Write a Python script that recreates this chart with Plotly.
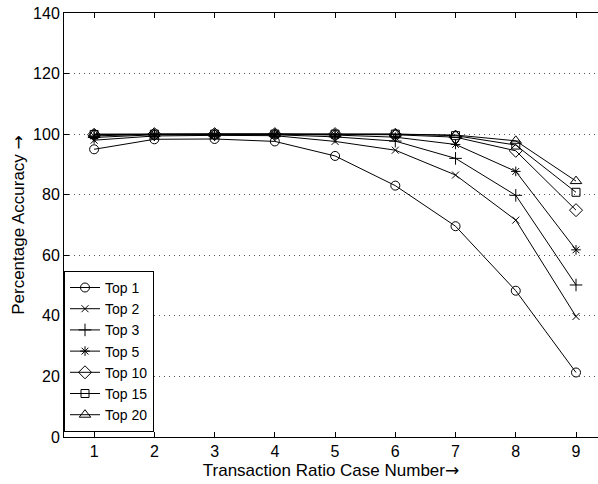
import plotly.graph_objects as go

cases = [1, 2, 3, 4, 5, 6, 7, 8, 9]
top1 = [95.0, 98.3, 98.4, 97.6, 92.8, 83.0, 69.6, 48.3, 21.3]
top2 = [98.0, 99.4, 99.6, 99.5, 97.6, 94.7, 86.5, 71.6, 39.8]
top3 = [98.9, 99.8, 99.8, 99.8, 99.1, 97.7, 92.0, 79.8, 50.2]
top5 = [99.4, 100.0, 100.0, 100.0, 99.7, 99.0, 96.6, 87.7, 61.8]
top10 = [99.8, 100.0, 100.0, 100.0, 100.0, 99.8, 99.0, 94.5, 74.9]
top15 = [99.9, 100.0, 100.0, 100.0, 100.0, 100.0, 99.5, 96.4, 80.8]
top20 = [100.0, 100.0, 100.0, 100.0, 100.0, 100.0, 99.7, 97.8, 84.5]

series = [
    ("Top 1", top1, "circle-open"),
    ("Top 2", top2, "x-thin-open"),
    ("Top 3", top3, "cross-thin-open"),
    ("Top 5", top5, "asterisk-open"),
    ("Top 10", top10, "diamond-open"),
    ("Top 15", top15, "square-open"),
    ("Top 20", top20, "triangle-up-open"),
]
sizes = {"circle-open": 9, "x-thin-open": 7, "cross-thin-open": 9, "asterisk-open": 8,
         "diamond-open": 10, "square-open": 8, "triangle-up-open": 10}

fig = go.Figure()
for name, vals, sym in series:
    fig.add_trace(go.Scatter(
        x=cases, y=vals, name=name, mode="lines+markers",
        line=dict(color="black", width=1),
        marker=dict(symbol=sym, size=sizes[sym], color="black",
                    line=dict(color="black", width=1)),
    ))

font = "Liberation Sans, Arial, Helvetica, sans-serif"
arrow = '<span style="font-family:DejaVu Sans">\u2192</span>'
fig.update_layout(
    width=598, height=484,
    margin=dict(l=64, r=0, t=13, b=47),
    paper_bgcolor="white", plot_bgcolor="white",
    font=dict(family=font, size=16, color="black"),
    showlegend=True,
    legend=dict(x=0, y=0.012, xanchor="left", yanchor="bottom",
                bgcolor="white", bordercolor="black", borderwidth=1,
                font=dict(size=14), tracegroupgap=0, itemwidth=30),
    xaxis=dict(
        range=[0.5, 9.365], tickmode="array", tickvals=cases,
        ticks="inside", ticklen=5, tickcolor="black",
        showline=True, linecolor="black", linewidth=1, mirror="ticks",
        showgrid=False, zeroline=False, automargin=False,
        title=dict(text="Transaction Ratio Case Number" + arrow, font=dict(size=17), standoff=2),
        tickfont=dict(size=16),
    ),
    yaxis=dict(
        range=[0, 140], tickmode="array", tickvals=[0, 20, 40, 60, 80, 100, 120, 140],
        ticks="inside", ticklen=5, tickcolor="black",
        showline=True, linecolor="black", linewidth=1,
        showgrid=True, gridcolor="#555555", griddash="1px,4px", gridwidth=1,
        zeroline=False, automargin=False,
        title=dict(text="Percentage Accuracy " + arrow, font=dict(size=17), standoff=4),
        tickfont=dict(size=16),
    ),
)

fig.write_html("out.html", config={"displayModeBar": False},
               post_script="document.body.style.margin='0';")
